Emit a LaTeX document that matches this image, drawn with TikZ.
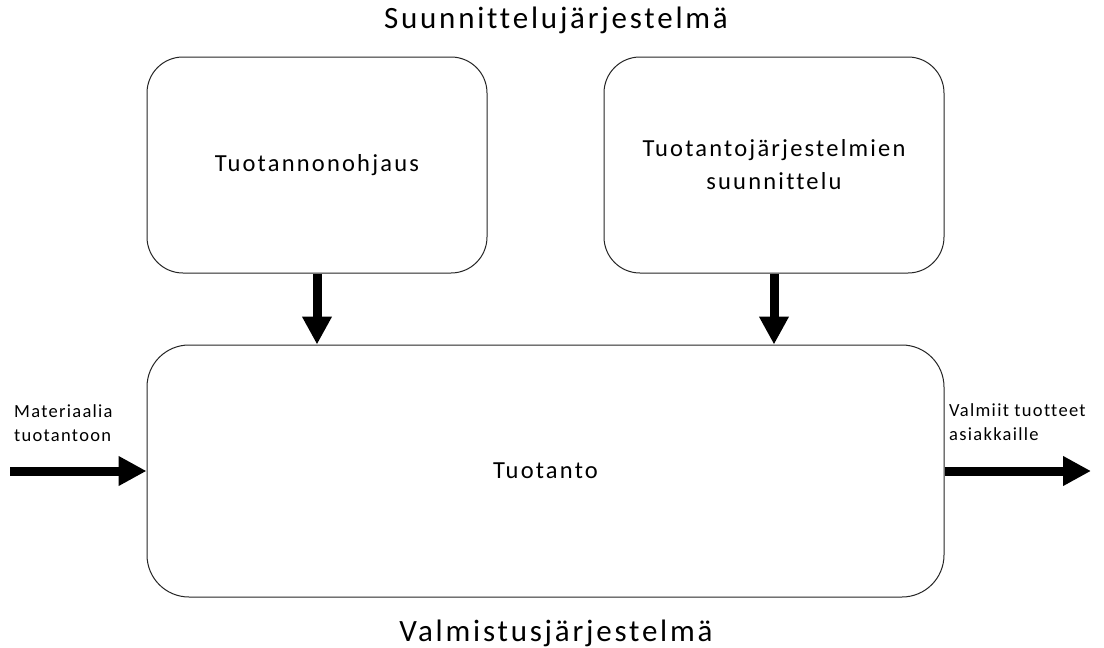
\documentclass[tikz,border=0pt]{standalone}
\usepackage{fontspec}
\setmainfont{Carlito}[Ligatures=NoCommon]
\newfontfamily\ttlfont{Carlito}[Ligatures=NoCommon,LetterSpace=9]
\newfontfamily\boxfont{Carlito}[Ligatures=NoCommon,LetterSpace=9]
\newfontfamily\lblfont{Carlito}[Ligatures=NoCommon,LetterSpace=7]
\usetikzlibrary{arrows.meta}
\begin{document}
\begin{tikzpicture}[x=1pt,y=-1pt,
  box/.style={draw=black!85,line width=1pt,rounded corners=36pt,align=center,font=\boxfont\fontsize{24.5}{33}\selectfont,inner sep=0pt},
  fat/.style={line width=9pt,-{Triangle[width=28pt,length=28pt]}},
  lbl/.style={align=left,anchor=north west,font=\lblfont\fontsize{18.5}{24}\selectfont,inner sep=0pt},
  ttl/.style={font=\ttlfont\fontsize{31}{34}\selectfont,inner sep=0pt}]
\useasboundingbox[fill=white] (0,0) rectangle (1104,648);
\node[ttl] (t1) at (556,20) {Suunnittelujärjestelmä};
\node[ttl] (t2) at (556,633) {Valmistusjärjestelmä};
\node[box,minimum width=340pt,minimum height=216pt] (b1) at (317,165) {Tuotannonohjaus};
\node[box,minimum width=340pt,minimum height=216pt] (b2) at (774,165) {Tuotantojärjestelmien\\suunnittelu};
\node[box,rounded corners=42pt,minimum width=797pt,minimum height=252pt] (m) at (545.5,471) {Tuotanto};
\draw[fat] (b1.south) -- (b1.south |- m.north);
\draw[fat] (b2.south) -- (b2.south |- m.north);
\coordinate (in) at (10,471);
\coordinate (out) at (1091,471);
\draw[fat] (in) -- (m.west);
\draw[fat] (m.east) -- (out);
\node[lbl] (l1) at (14,404) {Materiaalia\\tuotantoon};
\node[lbl] (l2) at (949,403) {Valmiit tuotteet\\asiakkaille};
\end{tikzpicture}
\end{document}
